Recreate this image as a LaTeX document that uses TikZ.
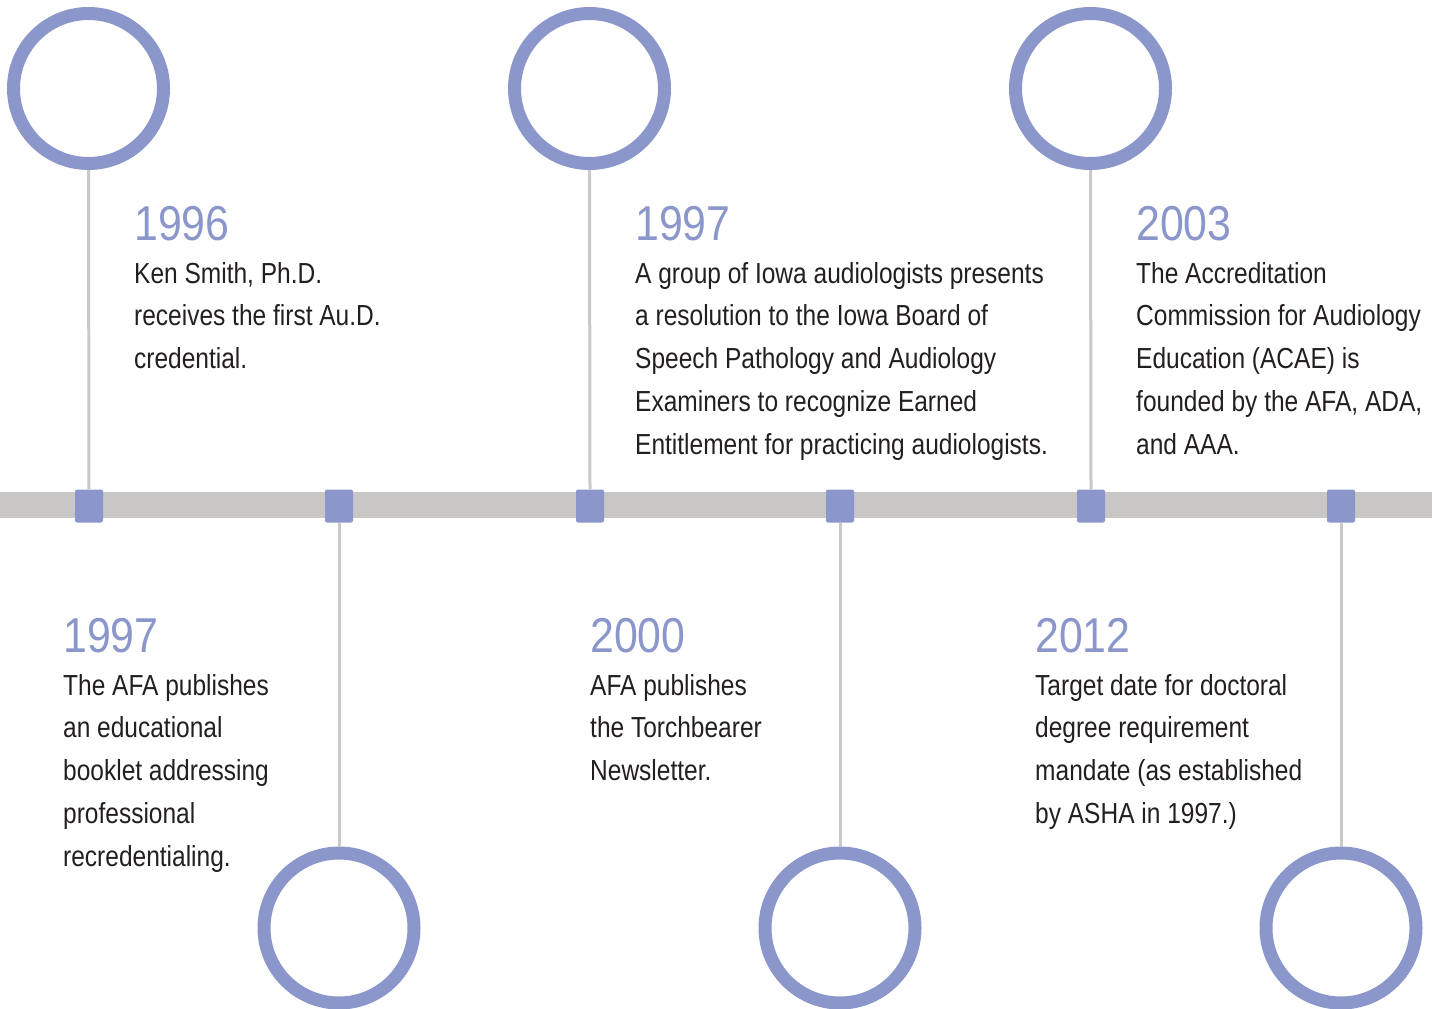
\documentclass[tikz,border=0pt]{standalone}
\usepackage{fontspec}
\setmainfont{Liberation Sans}[FakeStretch=0.845]
\newfontfamily\yearfont{Liberation Sans}[FakeStretch=0.875]
\definecolor{ringcol}{HTML}{8B97CB}
\definecolor{barcol}{HTML}{C8C7C6}
\definecolor{stemcol}{HTML}{C9C9C9}
\definecolor{inkcol}{HTML}{231F20}
\tikzset{
  ring/.style={circle, draw=ringcol, line width=13pt, minimum size=150pt, inner sep=0pt},
  marker/.style={rectangle, fill=ringcol, minimum width=28pt, minimum height=33pt, inner sep=0pt, rounded corners=2pt},
  stem/.style={draw=stemcol, line width=3pt},
  yearlabel/.style={anchor=base west, inner sep=0pt, text=ringcol, font=\yearfont\fontsize{49}{49}\selectfont},
  bodytext/.style={anchor=north west, inner sep=0pt, align=left, text=inkcol, font=\fontsize{29}{42.7}\selectfont},
}
\begin{document}
\begin{tikzpicture}[x=1pt, y=-1pt]
\useasboundingbox (0,0) rectangle (1432,1009);
% horizontal bar
\fill[barcol] (0,492) rectangle (1432,518);
% markers on the bar
\foreach \i/\x in {1/89, 2/339, 3/590, 4/840, 5/1091, 6/1341}
  \node[marker] (m\i) at (\x,506) {};
% rings
\node[ring] (r1) at (88.5,88.5) {};
\node[ring] (r3) at (589.5,88.5) {};
\node[ring] (r5) at (1090.5,88.5) {};
\node[ring] (r2) at (339,928) {};
\node[ring] (r4) at (840,928) {};
\node[ring] (r6) at (1341,928) {};
% stems
\foreach \i in {1,3,5}
  \draw[stem] (r\i.south) -- (m\i.north);
\foreach \i in {2,4,6}
  \draw[stem] (m\i.south) -- (r\i.north);
% upper events
\node[yearlabel] (y1) at (134,240) {1996};
\node[bodytext] (t1) at (134,262) {Ken Smith, Ph.D.\\receives the first Au.D.\\credential.};
\node[yearlabel] (y3) at (635,240) {1997};
\node[bodytext] (t3) at (635,262) {A group of Iowa audiologists presents\\a resolution to the Iowa Board of\\Speech Pathology and Audiology\\Examiners to recognize Earned\\Entitlement for practicing audiologists.};
\node[yearlabel] (y5) at (1136,240) {2003};
\node[bodytext] (t5) at (1136,262) {The Accreditation\\Commission for Audiology\\Education (ACAE) is\\founded by the AFA, ADA,\\and AAA.};
% lower events
\node[yearlabel] (y2) at (63,652) {1997};
\node[bodytext] (t2) at (63,674) {The AFA publishes\\an educational\\booklet addressing\\professional\\recredentialing.};
\node[yearlabel] (y4) at (590,652) {2000};
\node[bodytext] (t4) at (590,674) {AFA publishes\\the Torchbearer\\Newsletter.};
\node[yearlabel] (y6) at (1035,652) {2012};
\node[bodytext] (t6) at (1035,674) {Target date for doctoral\\degree requirement\\mandate (as established\\by ASHA in 1997.)};
\end{tikzpicture}
\end{document}
